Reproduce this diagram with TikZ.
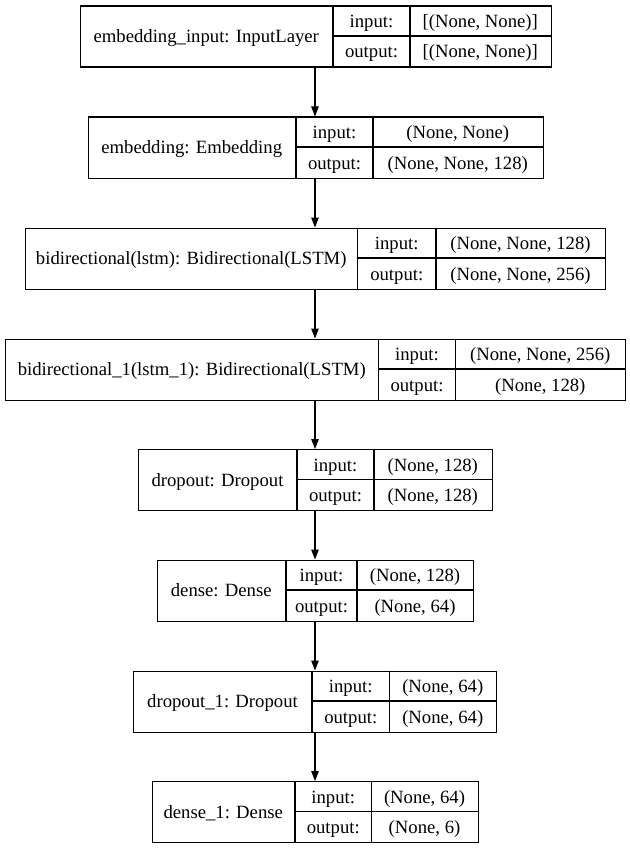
\documentclass[tikz,border=0pt]{standalone}
\usepackage{fontspec}
\setmainfont{Liberation Serif}
\usetikzlibrary{arrows.meta}
\tikzset{
  layerbox/.style={draw=black, line width=1.3pt, inner sep=0pt, anchor=north west, fill=white},
  divline/.style={draw=black, line width=1.3pt},
  txt/.style={inner sep=0pt, text=black, font=\fontsize{18.7}{22}\selectfont, anchor=base},
  arr/.style={draw=black, line width=1.1pt, -{Triangle[length=10pt,width=7.5pt]}}
}
% #1 name, #2 top y, #3 x0, #4 x1, #5 x2, #6 x3, #7 label, #8 input, #9 output
\newcommand{\klayer}[9]{%
  \node[layerbox, minimum width={(#6-#3)*1pt}, minimum height=61pt] (#1) at (#3,#2) {};
  \draw[divline] (#4,#2) -- (#4,#2+61);
  \draw[divline] (#5,#2) -- (#5,#2+61);
  \draw[divline] (#4,#2+30.5) -- (#6,#2+30.5);
  \node[txt] (#1-lab) at ({(#3+#4)/2},{#2+37}) {#7};
  \node[txt] (#1-ik) at ({(#4+#5)/2},{#2+22}) {input:};
  \node[txt] (#1-ok) at ({(#4+#5)/2},{#2+52.5}) {output:};
  \node[txt] (#1-iv) at ({(#5+#6)/2},{#2+22}) {#8};
  \node[txt] (#1-ov) at ({(#5+#6)/2},{#2+52.5}) {#9};
}
\begin{document}
\begin{tikzpicture}[x=1pt,y=-1pt]
\useasboundingbox[fill=white] (0,0) rectangle (629,848);
\klayer{L1}{5.5}{79.5}{333}{410}{550.5}{embedding\_input: InputLayer}{[(None, None)]}{[(None, None)]}
\klayer{L2}{116.5}{87.5}{296}{373}{542.5}{embedding: Embedding}{(None, None)}{(None, None, 128)}
\klayer{L3}{227.5}{25}{357.5}{436}{605}{bidirectional(lstm): Bidirectional(LSTM)}{(None, None, 128)}{(None, None, 256)}
\klayer{L4}{338.5}{5}{378.5}{455.5}{625}{bidirectional\_1(lstm\_1): Bidirectional(LSTM)}{(None, None, 256)}{(None, 128)}
\klayer{L5}{449}{138}{297}{374}{491.5}{dropout: Dropout}{(None, 128)}{(None, 128)}
\klayer{L6}{559.5}{156.5}{286}{357}{473}{dense: Dense}{(None, 128)}{(None, 64)}
\klayer{L7}{670.5}{133}{312}{389.5}{496}{dropout\_1: Dropout}{(None, 64)}{(None, 64)}
\klayer{L8}{781}{151.5}{295}{371.5}{477.5}{dense\_1: Dense}{(None, 64)}{(None, 6)}
\foreach \a/\b in {L1/L2,L2/L3,L3/L4,L4/L5,L5/L6,L6/L7,L7/L8}{
  \draw[arr] (\a.south -| 315,0) -- (\b.north -| 315,0);
}
\end{tikzpicture}
\end{document}
